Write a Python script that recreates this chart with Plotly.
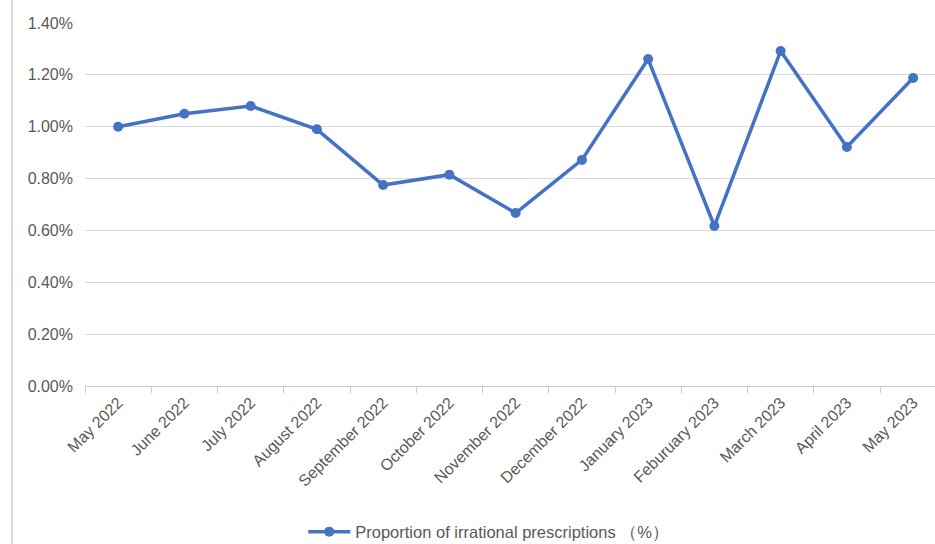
import plotly.graph_objects as go

months = ["May 2022", "June 2022", "July 2022", "August 2022", "September 2022",
          "October 2022", "November 2022", "December 2022", "January 2023",
          "Feburuary 2023", "March 2023", "April 2023", "May 2023"]
proportion = [1.00, 1.05, 1.08, 0.99, 0.775, 0.815, 0.667, 0.872, 1.261,
              0.617, 1.292, 0.922, 1.188]
y_ticks = [0, 0.2, 0.4, 0.6, 0.8, 1.0, 1.2, 1.4]
y_tick_text = ["0.00%", "0.20%", "0.40%", "0.60%", "0.80%", "1.00%", "1.20%", "1.40%"]

blue = "#4472C4"
text_grey = "#595959"
grid_grey = "#D9D9D9"

fig = go.Figure()
fig.add_trace(go.Scatter(
    x=months, y=proportion, mode="lines+markers",
    name="Proportion of irrational prescriptions （%）",
    line=dict(color=blue, width=3.5),
    marker=dict(color=blue, size=10),
))

fig.update_layout(
    width=935, height=544,
    margin=dict(l=85, r=0, t=23, b=158, autoexpand=False),
    paper_bgcolor="white", plot_bgcolor="white",
    font=dict(family="Liberation Sans, Arial, sans-serif", size=16, color=text_grey),
    showlegend=True,
    legend=dict(orientation="h", x=0.475, xanchor="center", y=-0.402, yanchor="middle",
                itemwidth=42, font=dict(size=16.5, color=text_grey)),
    xaxis=dict(
        type="category", range=[-0.5, 12.33], automargin=False,
        tickangle=-45, tickson="boundaries", ticks="outside", ticklen=6,
        tickcolor="#C8C8C8", showline=True, linecolor="#C8C8C8", linewidth=1,
        showgrid=False, tickfont=dict(size=16, color=text_grey),
    ),
    yaxis=dict(
        range=[0, 1.4], tickvals=y_ticks, ticktext=y_tick_text, automargin=False,
        showgrid=True, gridcolor=grid_grey, gridwidth=1, zeroline=False,
        showline=False, ticks="", ticklabelstandoff=11,
        tickfont=dict(size=16, color=text_grey),
    ),
    shapes=[dict(type="line", xref="paper", yref="paper",
                 x0=-73 / 850, x1=-73 / 850, y0=-158 / 363, y1=1 + 23 / 363,
                 line=dict(color="#D9D9D9", width=2))],
)

fig.write_html("out.html")
